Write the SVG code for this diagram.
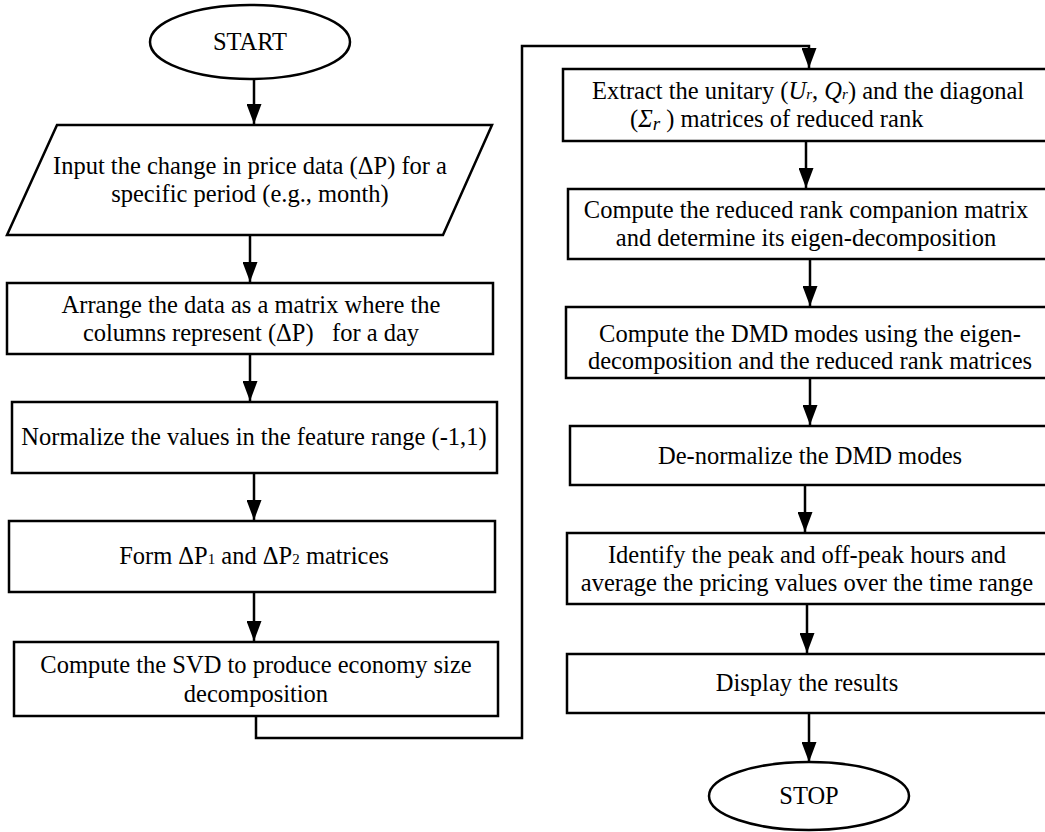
<svg xmlns="http://www.w3.org/2000/svg" width="1045" height="832" viewBox="0 0 1045 832">
<defs>
<marker id="ah" markerWidth="20" markerHeight="15" refX="20" refY="7.5" orient="auto" markerUnits="userSpaceOnUse" viewBox="0 0 20 15">
<path d="M0,0 L20,7.5 L0,15 Z" fill="#000"/>
</marker>
<style>
.n{fill:#fff;stroke:#000;stroke-width:2.5}
.c{fill:none;stroke:#000;stroke-width:2.5}
text{font-family:"Liberation Serif","Times New Roman",serif;font-size:24.5px;fill:#000;text-anchor:middle}
.s{font-size:15px}
.i{font-style:italic}
</style>
</defs>
<rect width="1045" height="832" fill="#fff"/>
<g id="connectors">
<line class="c" x1="254" y1="79" x2="254" y2="124" marker-end="url(#ah)"/>
<line class="c" x1="250" y1="236" x2="250" y2="282" marker-end="url(#ah)"/>
<line class="c" x1="250" y1="354" x2="250" y2="401" marker-end="url(#ah)"/>
<line class="c" x1="254" y1="473" x2="254" y2="520" marker-end="url(#ah)"/>
<line class="c" x1="254" y1="592" x2="254" y2="641" marker-end="url(#ah)"/>
<polyline class="c" points="256,716 256,738 522,738 522,46 809,46 809,68" marker-end="url(#ah)"/>
<line class="c" x1="806" y1="141" x2="806" y2="188" marker-end="url(#ah)"/>
<line class="c" x1="810" y1="259" x2="810" y2="306" marker-end="url(#ah)"/>
<line class="c" x1="810" y1="378" x2="810" y2="425" marker-end="url(#ah)"/>
<line class="c" x1="805" y1="485" x2="805" y2="532" marker-end="url(#ah)"/>
<line class="c" x1="807" y1="604" x2="807" y2="653" marker-end="url(#ah)"/>
<line class="c" x1="809" y1="713" x2="809" y2="762" marker-end="url(#ah)"/>
</g>
<g id="start">
<ellipse class="n" cx="250" cy="42" rx="100" ry="37"/>
<text x="250" y="50">START</text>
</g>
<g id="input">
<polygon class="n" points="57,125 492,125 443,235 7,235"/>
<text x="250" y="174">Input the change in price data (ΔP) for a</text>
<text x="250" y="202">specific period (e.g., month)</text>
</g>
<g id="arrange">
<rect class="n" x="7" y="283" width="486" height="71"/>
<text x="251" y="313">Arrange the data as a matrix where the</text>
<text x="251" y="341" xml:space="preserve">columns represent (ΔP)   for a day</text>
</g>
<g id="normalize">
<rect class="n" x="12" y="402" width="485" height="71"/>
<text x="254" y="445">Normalize the values in the feature range (-1,1)</text>
</g>
<g id="form">
<rect class="n" x="9" y="521" width="486" height="71"/>
<text x="254" y="564">Form ΔP<tspan class="s">1</tspan> and ΔP<tspan class="s">2</tspan> matrices</text>
</g>
<g id="svd">
<rect class="n" x="14" y="642" width="484" height="74"/>
<text x="256" y="673">Compute the SVD to produce economy size</text>
<text x="256" y="702">decomposition</text>
</g>
<g id="extract">
<rect class="n" x="563" y="69" width="490" height="72"/>
<text x="808" y="99">Extract the unitary (<tspan class="i">U</tspan><tspan class="i s">r</tspan>, <tspan class="i">Q</tspan><tspan class="i s">r</tspan>) and the diagonal</text>
<text x="630" y="127" style="text-anchor:start">(<tspan class="i">Σ</tspan><tspan class="i" font-size="19" dy="3">r</tspan><tspan dy="-3"> ) matrices of reduced rank</tspan></text>
</g>
<g id="companion">
<rect class="n" x="568" y="189" width="485" height="70"/>
<text x="806" y="218">Compute the reduced rank companion matrix</text>
<text x="806" y="246">and determine its eigen-decomposition</text>
</g>
<g id="dmd">
<rect class="n" x="566" y="307" width="487" height="71"/>
<text x="810" y="342">Compute the DMD modes using the eigen-</text>
<text x="810" y="369">decomposition and the reduced rank matrices</text>
</g>
<g id="denorm">
<rect class="n" x="570" y="426" width="483" height="59"/>
<text x="810" y="464">De-normalize the DMD modes</text>
</g>
<g id="identify">
<rect class="n" x="567" y="533" width="486" height="71"/>
<text x="807" y="563">Identify the peak and off-peak hours and</text>
<text x="807" y="591">average the pricing values over the time range</text>
</g>
<g id="display">
<rect class="n" x="567" y="654" width="486" height="59"/>
<text x="807" y="691">Display the results</text>
</g>
<g id="stop">
<ellipse class="n" cx="809" cy="796" rx="100" ry="34"/>
<text x="809" y="804">STOP</text>
</g>
</svg>
